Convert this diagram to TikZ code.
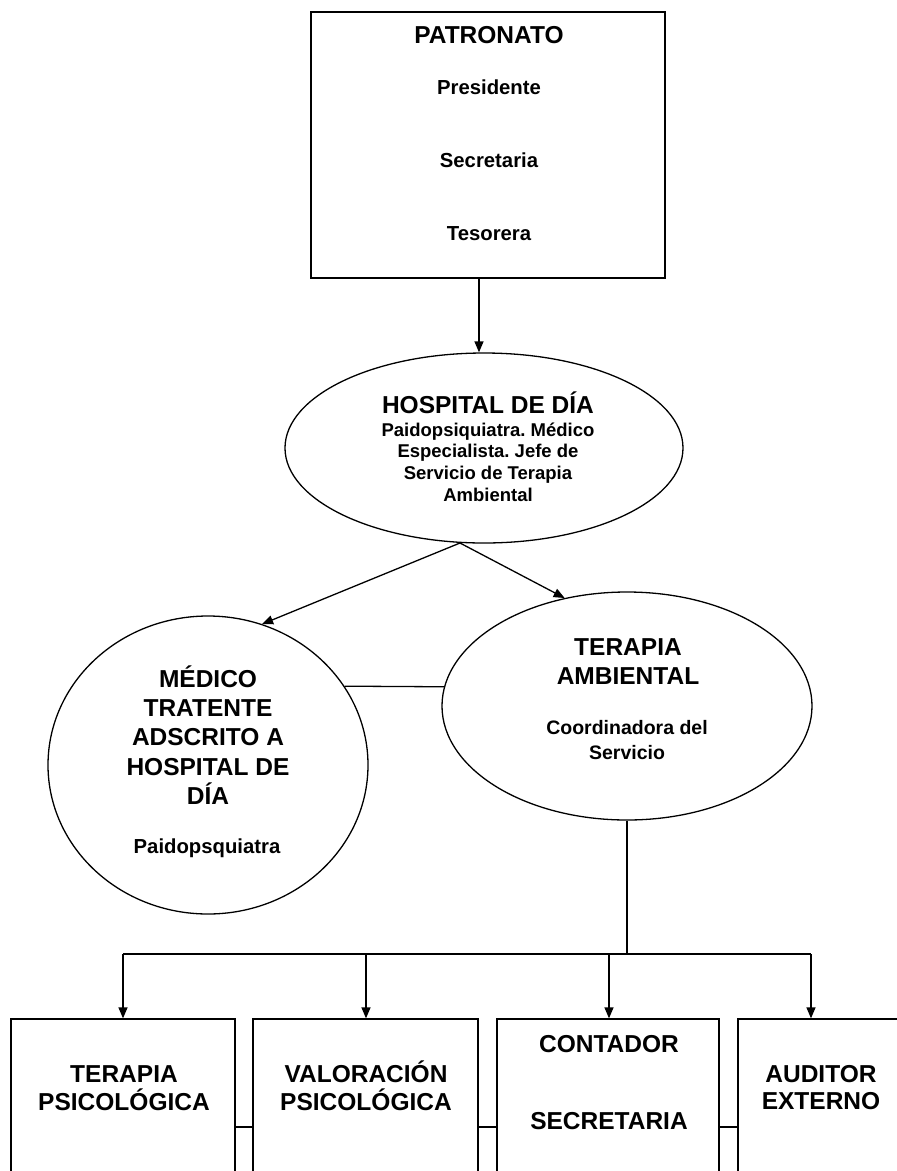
\documentclass[tikz,border=0pt]{standalone}
\usepackage{fontspec}
\setmainfont{Liberation Sans}
\usetikzlibrary{arrows.meta,shapes.geometric}
\frenchspacing

\begin{document}
\begin{tikzpicture}[x=1pt,y=-1pt,
  line width=1.3pt,
  box/.style={draw, rectangle, inner sep=0pt},
  oval/.style={draw, ellipse, inner sep=0pt},
  arr/.style={-{Triangle[length=11pt,width=9pt]}},
  big/.style={font=\fontsize{24.5}{29}\selectfont\bfseries, anchor=base, inner sep=0pt},
  small/.style={font=\fontsize{20.3}{24}\selectfont\bfseries, anchor=base, inner sep=0pt},
  sub/.style={font=\fontsize{18.5}{22}\selectfont\bfseries, anchor=base, inner sep=0pt},
  coord/.style={font=\fontsize{19.5}{23}\selectfont\bfseries, anchor=base, inner sep=0pt},
]
\useasboundingbox (0,0) rectangle (897,1171);
\clip (0,0) rectangle (897,1171);

% PATRONATO
\node[box, minimum width=354pt, minimum height=266pt] (patr) at (488,145) {};
\node[big]   (tpatr) at (489,43)  {PATRONATO};
\node[small] (tpres) at (489,94)  {Presidente};
\node[small] (tsec)  at (489,167) {Secretaria};
\node[small] (ttes)  at (489,240) {Tesorera};

% HOSPITAL DE DIA
\node[oval, minimum width=398pt, minimum height=190pt] (hosp) at (484,448) {};
\node[big] (thosp) at (488,413) {HOSPITAL DE DÍA};
\node[sub] (th1) at (488,436) {Paidopsiquiatra. Médico};
\node[sub] (th2) at (488,457) {Especialista. Jefe de};
\node[sub] (th3) at (488,479) {Servicio de Terapia};
\node[sub] (th4) at (488,501) {Ambiental};

% MEDICO
\node[oval, minimum width=320pt, minimum height=298pt] (med) at (208,765) {};
\node[big] (tm1) at (208,687) {MÉDICO};
\node[big] (tm2) at (208,716) {TRATENTE};
\node[big] (tm3) at (208,745) {ADSCRITO A};
\node[big] (tm4) at (208,775) {HOSPITAL DE};
\node[big] (tm5) at (208,804) {DÍA};
\node[small] (tm6) at (207,853) {Paidopsquiatra};

% TERAPIA AMBIENTAL
\node[oval, minimum width=370pt, minimum height=228pt] (amb) at (627,706) {};
\node[big] (ta1) at (628,655) {TERAPIA};
\node[big] (ta2) at (628,684) {AMBIENTAL};
\node[coord] (ta3) at (627,734) {Coordinadora del};
\node[coord] (ta4) at (627,759) {Servicio};

% bottom boxes
\node[box, minimum width=224pt, minimum height=182pt] (b1) at (123,1110) {};
\node[box, minimum width=225pt, minimum height=182pt] (b2) at (365.5,1110) {};
\node[box, minimum width=222pt, minimum height=182pt] (b3) at (608,1110) {};
\node[box, minimum width=224pt, minimum height=182pt] (b4) at (850,1110) {};

\node[big] (tb1a) at (124,1082) {TERAPIA};
\node[big] (tb1b) at (124,1110) {PSICOLÓGICA};
\node[big] (tb2a) at (366,1082) {VALORACIÓN};
\node[big] (tb2b) at (366,1110) {PSICOLÓGICA};
\node[big] (tb3a) at (609,1052) {CONTADOR};
\node[big] (tb3b) at (609,1129) {SECRETARIA};
\node[big] (tb4a) at (821,1082) {AUDITOR};
\node[big] (tb4b) at (821,1109) {EXTERNO};

% connectors
\coordinate (pa) at (479,278);
\draw[arr] (pa) -- (pa |- hosp.north);

\coordinate (hb) at (460,543);
\draw[arr] (hb) -- (med.69);
\draw[arr] (hb) -- (amb.120);

\draw (med.30) -- (amb.174);

\coordinate (bar) at (0,954);
\draw (amb.south) -- (amb.south |- bar);

\coordinate (d1) at (123,954);
\coordinate (d2) at (366,954);
\coordinate (d3) at (609,954);
\coordinate (d4) at (811,954);
\draw (d1) -- (d4);
\draw[arr] (d1) -- (d1 |- b1.north);
\draw[arr] (d2) -- (d2 |- b2.north);
\draw[arr] (d3) -- (d3 |- b3.north);
\draw[arr] (d4) -- (d4 |- b4.north);

\coordinate (mid) at (0,1127);
\draw (b1.east |- mid) -- (b2.west |- mid);
\draw (b2.east |- mid) -- (b3.west |- mid);
\draw (b3.east |- mid) -- (b4.west |- mid);
\end{tikzpicture}
\end{document}
